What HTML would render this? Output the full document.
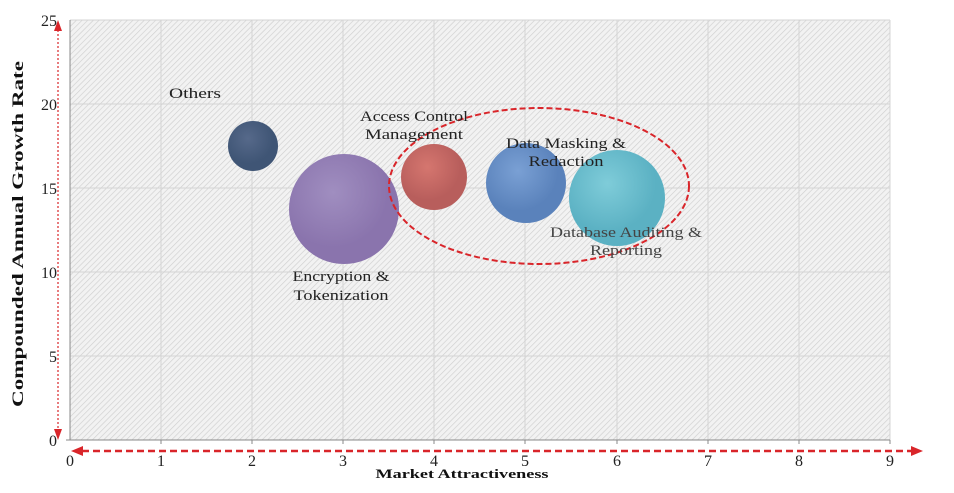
<!DOCTYPE html><html><head><style>body{margin:0;background:#fff}svg{display:block}text{font-family:"Liberation Serif",serif}</style></head><body>
<svg width="954" height="493" viewBox="0 0 954 493">
<defs>
<pattern id="h" width="4" height="4" patternUnits="userSpaceOnUse" patternTransform="rotate(45)"><rect width="4" height="4" fill="#f2f2f2"/><line x1="0" y1="0" x2="0" y2="4" stroke="#cfcfcf" stroke-width="1.3"/></pattern>
<radialGradient id="g1" cx="40%" cy="35%"><stop offset="0" stop-color="#56698a"/><stop offset="1" stop-color="#3f5575"/></radialGradient>
<radialGradient id="g2" cx="40%" cy="35%"><stop offset="0" stop-color="#a08ec0"/><stop offset="1" stop-color="#8a74ad"/></radialGradient>
<radialGradient id="g3" cx="40%" cy="35%"><stop offset="0" stop-color="#d5766f"/><stop offset="1" stop-color="#b85e5c"/></radialGradient>
<radialGradient id="g4" cx="40%" cy="35%"><stop offset="0" stop-color="#7aa0d4"/><stop offset="1" stop-color="#5a82bb"/></radialGradient>
<radialGradient id="g5" cx="40%" cy="35%"><stop offset="0" stop-color="#7fccd9"/><stop offset="1" stop-color="#5bb1c3"/></radialGradient>
</defs>
<rect x="70" y="20" width="820" height="420" fill="url(#h)"/>
<g stroke="#d4d4d4" stroke-width="1">
<line x1="161" y1="20" x2="161" y2="440"/><line x1="252" y1="20" x2="252" y2="440"/><line x1="343" y1="20" x2="343" y2="440"/><line x1="434" y1="20" x2="434" y2="440"/><line x1="525" y1="20" x2="525" y2="440"/><line x1="617" y1="20" x2="617" y2="440"/><line x1="708" y1="20" x2="708" y2="440"/><line x1="799" y1="20" x2="799" y2="440"/><line x1="890" y1="20" x2="890" y2="440"/>
<line x1="70" y1="20" x2="890" y2="20"/><line x1="70" y1="104" x2="890" y2="104"/><line x1="70" y1="188" x2="890" y2="188"/><line x1="70" y1="272" x2="890" y2="272"/><line x1="70" y1="356" x2="890" y2="356"/>
</g>
<g stroke="#888"><line x1="70" y1="20" x2="70" y2="440"/><line x1="66" y1="440" x2="890" y2="440"/>
<line x1="161" y1="440" x2="161" y2="444"/><line x1="252" y1="440" x2="252" y2="444"/><line x1="343" y1="440" x2="343" y2="444"/><line x1="434" y1="440" x2="434" y2="444"/><line x1="525" y1="440" x2="525" y2="444"/><line x1="617" y1="440" x2="617" y2="444"/><line x1="708" y1="440" x2="708" y2="444"/><line x1="799" y1="440" x2="799" y2="444"/><line x1="890" y1="440" x2="890" y2="444"/></g>
<circle cx="253" cy="146" r="25" fill="url(#g1)"/>
<circle cx="344" cy="209" r="55" fill="url(#g2)"/>
<circle cx="434" cy="177" r="33" fill="url(#g3)"/>
<circle cx="526" cy="183" r="40" fill="url(#g4)"/>
<circle cx="617" cy="198" r="48" fill="url(#g5)"/>
<ellipse cx="539" cy="186" rx="150" ry="78" fill="none" stroke="#d9252a" stroke-width="2" stroke-dasharray="6,3"/>
<g font-size="15" fill="#222" text-anchor="middle">
<text x="195" y="98" textLength="52" lengthAdjust="spacingAndGlyphs">Others</text>
<text x="414" y="121" textLength="108" lengthAdjust="spacingAndGlyphs">Access Control</text><text x="414" y="139" textLength="98" lengthAdjust="spacingAndGlyphs">Management</text>
<text x="566" y="148" textLength="120" lengthAdjust="spacingAndGlyphs">Data Masking &amp;</text><text x="566" y="166" textLength="75" lengthAdjust="spacingAndGlyphs">Redaction</text>
<text x="626" y="237" fill="#444" textLength="152" lengthAdjust="spacingAndGlyphs">Database Auditing &amp;</text><text x="626" y="255" fill="#444" textLength="72" lengthAdjust="spacingAndGlyphs">Reporting</text>
<text x="341" y="281" textLength="97" lengthAdjust="spacingAndGlyphs">Encryption &amp;</text><text x="341" y="300" textLength="95" lengthAdjust="spacingAndGlyphs">Tokenization</text>
</g>
<g font-size="16" fill="#222" text-anchor="end">
<text x="57" y="26">25</text><text x="57" y="110">20</text><text x="57" y="194">15</text><text x="57" y="278">10</text><text x="57" y="362">5</text><text x="57" y="446">0</text>
</g>
<g font-size="16" fill="#222" text-anchor="middle">
<text x="70" y="466">0</text><text x="161" y="466">1</text><text x="252" y="466">2</text><text x="343" y="466">3</text><text x="434" y="466">4</text><text x="525" y="466">5</text><text x="617" y="466">6</text><text x="708" y="466">7</text><text x="799" y="466">8</text><text x="890" y="466">9</text>
</g>
<text x="462" y="478" font-size="13" font-weight="bold" text-anchor="middle" fill="#111" textLength="173" lengthAdjust="spacingAndGlyphs">Market Attractiveness</text>
<text transform="translate(23,234) rotate(-90)" font-size="16" font-weight="bold" text-anchor="middle" fill="#111" textLength="346" lengthAdjust="spacingAndGlyphs">Compounded  Annual  Growth Rate</text>
<line x1="58" y1="30" x2="58" y2="430" stroke="#d9252a" stroke-width="1.2" stroke-dasharray="2,2"/>
<polygon points="58,20 54,31 62,31" fill="#d9252a"/><polygon points="58,440 54,429 62,429" fill="#d9252a"/>
<line x1="82" y1="451" x2="912" y2="451" stroke="#d9252a" stroke-width="2.5" stroke-dasharray="7,4"/>
<polygon points="71,451 83,446 83,456" fill="#d9252a"/><polygon points="923,451 911,446 911,456" fill="#d9252a"/>
</svg></body></html>
